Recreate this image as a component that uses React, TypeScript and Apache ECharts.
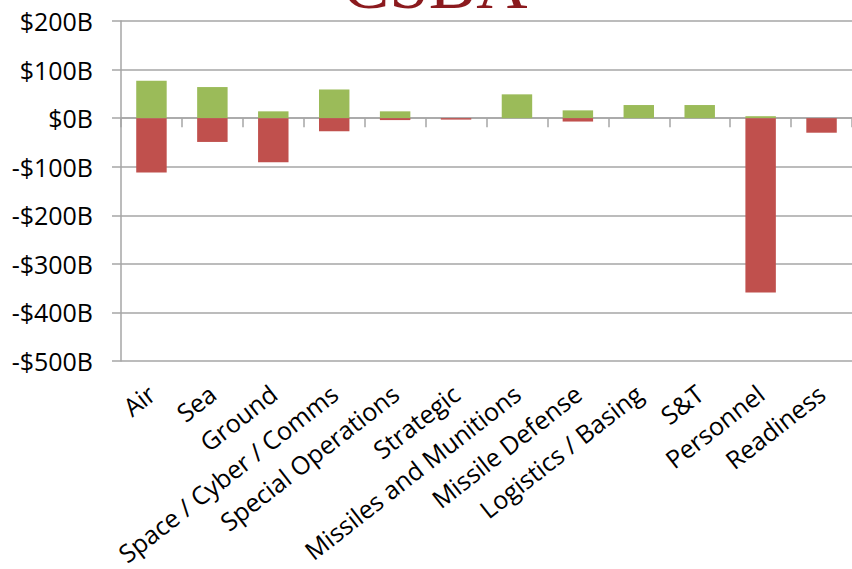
import React, { useEffect, useRef } from "react";
import * as echarts from "echarts";

const categories = [
  "Air",
  "Sea",
  "Ground",
  "Space / Cyber / Comms",
  "Special Operations",
  "Strategic",
  "Missiles and Munitions",
  "Missile Defense",
  "Logistics / Basing",
  "S&T",
  "Personnel",
  "Readiness",
];
const increases = [77, 64, 14, 59, 14, null, 49, 16, 27, 27, 4, null];
const cuts = [-112, -49, -91, -27, -4, -3, null, -7, null, null, -359, -30];
const yMin = -500;
const yMax = 200;
const yStep = 100;
const logoText = "CSBA";

const FONT = "'Open Sans', sans-serif";

export default function App() {
  const ref = useRef<HTMLDivElement>(null);
  useEffect(() => {
    if (!ref.current) return;
    const chart = echarts.init(ref.current, null, { renderer: "svg" });
    const gray = "#A6A6A6";
    chart.setOption({
      animation: false,
      backgroundColor: "#ffffff",
      grid: {
        left: 121,
        right: 0,
        top: 21,
        bottom: 208,
        containLabel: false,
        outerBoundsMode: "none",
      },
      graphic: [
        {
          type: "text",
          left: 342,
          top: -52,
          style: {
            text: logoText,
            fontFamily: "'Liberation Serif', 'Times New Roman', serif",
            fontSize: 71,
            fill: "#8B1A1E",
          },
        },
      ],
      xAxis: {
        type: "category",
        data: categories,
        axisLine: { onZero: true, lineStyle: { color: gray, width: 1.5 } },
        axisTick: { show: true, length: 9, lineStyle: { color: gray, width: 1.5 } },
        axisLabel: {
          rotate: 38,
          margin: 29,
          interval: 0,
          color: "#000",
          fontSize: 25,
          fontFamily: FONT,
        },
        splitLine: { show: false },
      },
      yAxis: {
        type: "value",
        min: yMin,
        max: yMax,
        interval: yStep,
        axisLine: { show: true, lineStyle: { color: gray, width: 1.5 } },
        axisTick: { show: true, length: 9, lineStyle: { color: gray, width: 1.5 } },
        splitLine: { show: true, lineStyle: { color: gray, width: 1.5 } },
        axisLabel: {
          margin: 28,
          color: "#000",
          fontSize: 25,
          fontFamily: FONT,
          formatter: (v: number) => (v < 0 ? `-$${-v}B` : `$${v}B`),
        },
      },
      series: [
        {
          name: "Increases",
          type: "bar",
          stack: "total",
          data: increases,
          barWidth: "50%",
          itemStyle: { color: "#9BBB59" },
        },
        {
          name: "Cuts",
          type: "bar",
          stack: "total",
          data: cuts,
          barWidth: "50%",
          itemStyle: { color: "#C0504D" },
        },
      ],
    });
    return () => chart.dispose();
  }, []);
  return (
    <div
      ref={ref}
      style={{ position: "fixed", left: 0, top: 0, width: 852, height: 569 }}
    />
  );
}
